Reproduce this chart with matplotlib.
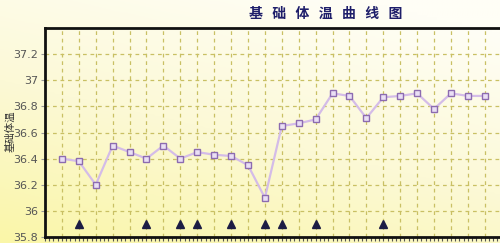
import numpy as np
import matplotlib
matplotlib.use("Agg")
import matplotlib.pyplot as plt
from matplotlib.colors import LinearSegmentedColormap

plt.rcParams['font.family'] = ['Noto Sans CJK SC', 'DejaVu Sans']

days = list(range(1, 27))
temps = [36.40, 36.38, 36.20, 36.50, 36.45, 36.40, 36.50, 36.40, 36.45, 36.43,
         36.42, 36.35, 36.10, 36.65, 36.67, 36.70, 36.90, 36.88, 36.71, 36.87,
         36.88, 36.90, 36.78, 36.90, 36.88, 36.88]
marker_days = [2, 6, 8, 9, 11, 13, 14, 16, 20]
marker_level = 35.9
yticks = [35.8, 36.0, 36.2, 36.4, 36.6, 36.8, 37.0, 37.2]
ytick_labels = ['35.8', '36', '36.2', '36.4', '36.6', '36.8', '37', '37.2']
title = '基   础   体   温   曲   线   图'
ylabel = '基础体温'

fig = plt.figure(figsize=(5.0, 2.43), dpi=100)

# background gradient for whole figure
bg = fig.add_axes([0, 0, 1, 1], zorder=-10)
bg.set_axis_off()
ny, nx = 100, 100
yy, xx = np.mgrid[0:1:ny*1j, 0:1:nx*1j]
t = np.clip(0.75 * yy + 0.35 * (1 - xx) - 0.1, 0, 1)
cmap = LinearSegmentedColormap.from_list('bgc', ['#fffef6', '#fcf9d6', '#faf6a8'])
bg.imshow(t, cmap=cmap, aspect='auto', extent=[0, 1, 0, 1], origin='upper')

ax = fig.add_axes([0.09, 0.0247, 0.91, 0.86])
ax.patch.set_alpha(0)
ax.set_xlim(0, 26.9)
ax.set_ylim(35.8, 37.4)

ax.set_xticks(days)
ax.set_xticklabels([])
ax.set_xticks(np.arange(0, 27, 0.25), minor=True)
ax.tick_params(axis='x', which='both', direction='out', length=3, width=0.8, color='#555555')
ax.set_yticks(yticks)
ax.set_yticklabels(ytick_labels, fontsize=8, color='#555555', family='DejaVu Sans')
ax.tick_params(axis='y', direction='out', length=3, width=0.8, color='#999999', pad=2)

ax.grid(True, which='major', color='#c9c064', linestyle=(0, (3, 3)), linewidth=0.9)

for s in ['left', 'top', 'bottom']:
    ax.spines[s].set_linewidth(2)
    ax.spines[s].set_color('#111111')
ax.spines['right'].set_visible(False)

ax.plot(days, temps, color='#d4bce8', linewidth=1.6, zorder=3,
        marker='s', markersize=4.5, markerfacecolor='#eadff5',
        markeredgecolor='#8c6bb0', markeredgewidth=1.0)

ax.plot(marker_days, [marker_level] * len(marker_days), linestyle='none',
        marker='^', markersize=5.5, color='#1c1c44', zorder=4)

fig.text(0.652, 0.942, title, ha='center', va='center', fontsize=10,
         fontweight='bold', color='#1e1e6a')
fig.text(0.02, 0.46, ylabel, rotation=90, ha='center', va='center',
         fontsize=7.5, color='#333333')

fig.savefig('out.png', dpi=100)
